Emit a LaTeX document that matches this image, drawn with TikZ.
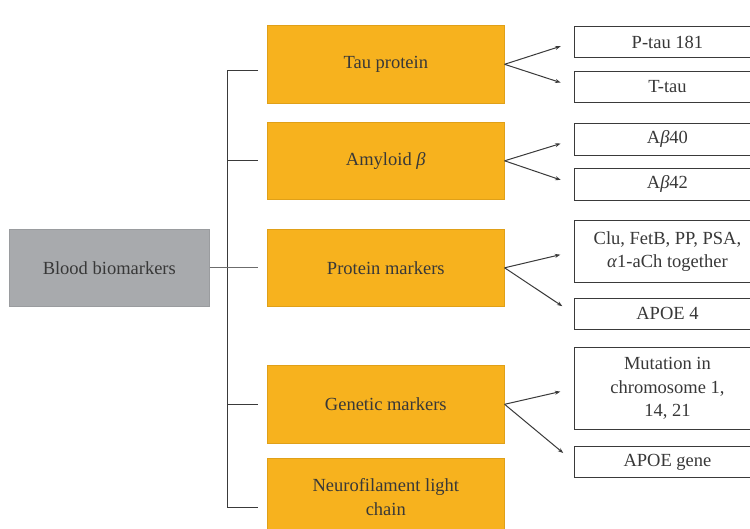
\documentclass[tikz,border=0pt]{standalone}
\usepackage{fontspec}
\setmainfont{Liberation Serif}
\usetikzlibrary{arrows.meta,calc}
\definecolor{orng}{HTML}{F7B21E}
\definecolor{orngd}{HTML}{E0A018}
\definecolor{gry}{HTML}{A8AAAD}
\definecolor{gryd}{HTML}{9A9C9F}
\definecolor{txt}{HTML}{383838}
\definecolor{ln}{HTML}{3A3A3A}
\begin{document}
\begin{tikzpicture}[x=1pt,y=-1pt,
  base/.style={anchor=north west, inner sep=2pt, align=center, text=txt,
    font=\fontsize{18.5}{23.5}\selectfont},
  obox/.style={base, fill=orng, draw=orngd, line width=0.6pt, minimum width=237pt},
  wbox/.style={base, fill=white, draw=ln, line width=0.9pt, minimum width=186pt},
  gbox/.style={base, fill=gry, draw=gryd, line width=0.6pt, minimum width=200pt, minimum height=77pt},
  conn/.style={draw=ln, line width=1pt},
  arr/.style={conn, -{Stealth[length=5.5pt,width=4pt]}, shorten >=14pt}]
\useasboundingbox (0,0) rectangle (750,528);
\clip (0,0) rectangle (750,528);
\fill[white] (0,0) rectangle (750,528);

% root
\node[gbox] (root) at (9,229) {Blood biomarkers};

% categories
\node[obox, minimum height=78pt] (tau)  at (267,25)  {Tau protein};
\node[obox, minimum height=77pt] (amy)  at (267,122) {Amyloid \textit{β}};
\node[obox, minimum height=77pt] (prot) at (267,229) {Protein markers};
\node[obox, minimum height=78pt] (gen)  at (267,365) {Genetic markers};
\node[obox, minimum height=78pt] (nf)   at (267,458) {Neurofilament light\\chain};

% leaves
\node[wbox, minimum height=31pt] (p181)  at (574,26)  {P-tau 181};
\node[wbox, minimum height=31pt] (ttau)  at (574,71)  {T-tau};
\node[wbox, minimum height=32pt] (ab40)  at (574,123) {A\textit{β}40};
\node[wbox, minimum height=32pt] (ab42)  at (574,168) {A\textit{β}42};
\node[wbox, minimum height=62pt] (clu)   at (574,220) {Clu, FetB, PP, PSA,\\\textit{α}1-aCh together};
\node[wbox, minimum height=31pt] (apoe4) at (574,298) {APOE 4};
\node[wbox, minimum height=82pt] (mut)   at (574,347) {Mutation in\\chromosome 1,\\14, 21};
\node[wbox, minimum height=31pt] (apoeg) at (574,446) {APOE gene};

% bracket
\coordinate (btop) at (227,70);
\coordinate (bbot) at (227,507);
\coordinate (ktau) at (258,70);
\coordinate (knf)  at (258,507);
\draw[conn] (ktau) -- (btop) -- (bbot) -- (knf);
\draw[conn] (amy.west -| btop) -- ($(amy.west)+(-9,0)$);
\draw[conn] (gen.west -| btop) -- ($(gen.west)+(-9,0)$);
\draw[conn, draw=gray!85!black] (root.east) -- ($(prot.west)+(-9,0)$);

% arrows
\draw[arr] (tau.east) -- (p181.west);
\draw[arr] (tau.east) -- (ttau.west);
\draw[arr] (amy.east) -- (ab40.west);
\draw[arr] (amy.east) -- (ab42.west);
\draw[arr] (prot.east) -- (clu.west);
\draw[arr] (prot.east) -- (apoe4.west);
\draw[arr] (gen.east) -- (mut.west);
\draw[arr] (gen.east) -- (apoeg.west);
\end{tikzpicture}
\end{document}
